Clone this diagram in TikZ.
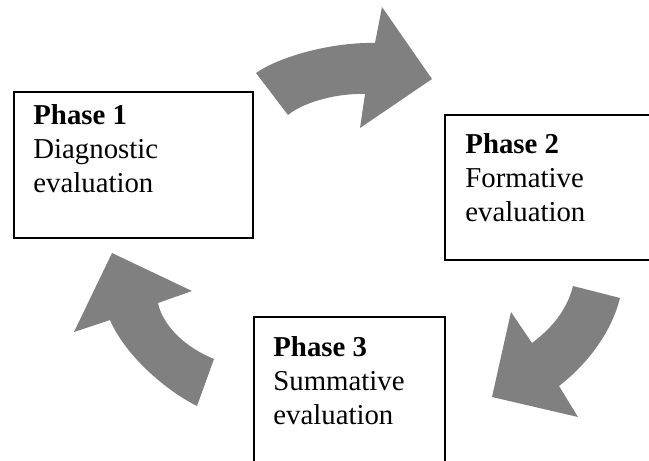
\documentclass[tikz,border=0pt]{standalone}
\usepackage{fontspec}
\setmainfont{Liberation Serif}

\definecolor{arrowgray}{HTML}{808080}
\tikzset{
	phasebox/.style={draw=black, line width=0.75pt, fill=white, anchor=north west, inner sep=0pt},
	phasetext/.style={anchor=base west, align=left, inner sep=0pt, font=\fontsize{14.4}{16.8}\selectfont},
	cyclearrow/.style={fill=arrowgray}
}

\begin{document}
\begin{tikzpicture}[x=0.5pt, y=-0.5pt]
		\useasboundingbox (0, 0) rectangle (649, 461);

		% riquadri
		\node[phasebox, minimum width=119.5pt, minimum height=73pt] (box1) at (13, 91) {};
		\node[phasebox, minimum width=104pt, minimum height=72.5pt] (box2) at (444, 114) {};
		\node[phasebox, minimum width=95.5pt, minimum height=75pt] (box3) at (253, 316) {};

		% testo (base = ultima riga)
		\node[phasetext] (text1) at (33, 192) {\textbf{Phase 1}\\Diagnostic\\evaluation};
		\node[phasetext] (text2) at (465, 221) {\textbf{Phase 2}\\Formative\\evaluation};
		\node[phasetext] (text3) at (273, 424) {\textbf{Phase 3}\\Summative\\evaluation};

		% frecce
		\fill[cyclearrow] (256, 73) .. controls (282, 55) and (335, 42) .. (375, 43) -- (382, 7) -- (432, 79)
			-- (360, 128) -- (365, 94) .. controls (340, 93) and (305, 101) .. (288, 115) -- cycle;
		\fill[cyclearrow] (573, 286) -- (620, 298) .. controls (612, 330) and (590, 362) .. (559, 386)
			-- (578, 417) -- (492, 397) -- (511, 312) -- (532, 343) .. controls (552, 328) and (567, 310) .. (573, 286) -- cycle;
		\fill[cyclearrow] (214, 359) -- (197, 406) .. controls (165, 390) and (125, 355) .. (110, 320)
			-- (74, 332) -- (112, 253) -- (192, 291) -- (158, 303) .. controls (162, 322) and (180, 345) .. (214, 359) -- cycle;
	\end{tikzpicture}
\end{document}
